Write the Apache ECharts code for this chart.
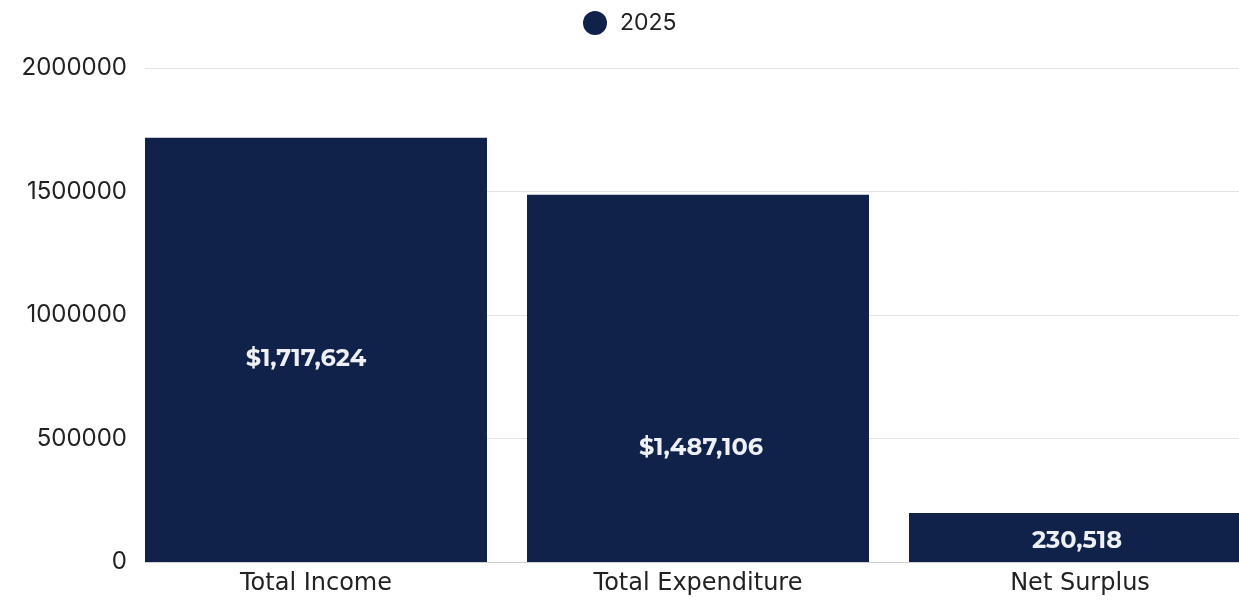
<!DOCTYPE html>
<html><head><meta charset="utf-8">
<script src="https://cdn.jsdelivr.net/npm/echarts@6/dist/echarts.min.js"></script>
<style>html,body{margin:0;padding:0;background:#fff}#c{width:1239px;height:601px}</style>
</head><body><div id="c"></div>
<script>
const categories = ['Total Income', 'Total Expenditure', 'Net Surplus'];
const values2025 = [1717624, 1487106, 198000];
const labels2025 = ['$1,717,624', '$1,487,106', '230,518'];
const labelOffsets = [[-10, 9], [3, 70], [-3, 3]];
const yTicks = [0, 500000, 1000000, 1500000, 2000000];
const seriesName = '2025';
const barColor = '#10224a';

const chart = echarts.init(document.getElementById('c'));
chart.setOption({
  animation: false,
  legend: {
    data: [seriesName], top: 6, left: 578, icon: 'circle', itemWidth: 24, itemHeight: 24,
    textStyle: { fontFamily: 'Inter', fontSize: 23, color: '#222', padding: [0, 0, 0, 8] }
  },
  grid: [
    { left: 125, width: 1146, top: 68, bottom: 39, outerBoundsMode: 'none' },
    { left: 145, right: 0, top: 68, bottom: 39, outerBoundsMode: 'none' }
  ],
  xAxis: [
    { type: 'category', gridIndex: 0, data: categories,
      axisLine: { show: false }, axisTick: { show: false },
      axisLabel: { fontFamily: 'DejaVu Sans', fontSize: 24, color: '#222', margin: 10 } },
    { type: 'category', gridIndex: 1, data: [''],
      axisLine: { show: true, lineStyle: { color: '#cfcfcf', width: 1 } },
      axisTick: { show: false }, axisLabel: { show: false } }
  ],
  yAxis: [
    { type: 'value', gridIndex: 0, min: yTicks[0], max: yTicks[yTicks.length - 1], interval: 500000, show: false },
    { type: 'value', gridIndex: 1, min: yTicks[0], max: yTicks[yTicks.length - 1], interval: 500000,
      axisLine: { show: false }, axisTick: { show: false },
      axisLabel: { fontFamily: 'Inter', fontSize: 24, color: '#222', margin: 18, formatter: v => String(v) },
      splitLine: { lineStyle: { color: '#e4e4e4', width: 1 } } }
  ],
  series: [{
    name: seriesName, type: 'bar', xAxisIndex: 0, yAxisIndex: 0,
    barCategoryGap: 40,
    itemStyle: { color: barColor },
    data: values2025.map((v, i) => ({
      value: v,
      label: { show: true, position: 'inside', offset: labelOffsets[i],
        formatter: () => labels2025[i],
        fontFamily: 'Montserrat, DejaVu Sans', fontWeight: 'bold', fontSize: 24, color: '#eef0f5' }
    }))
  }]
});
</script></body></html>
